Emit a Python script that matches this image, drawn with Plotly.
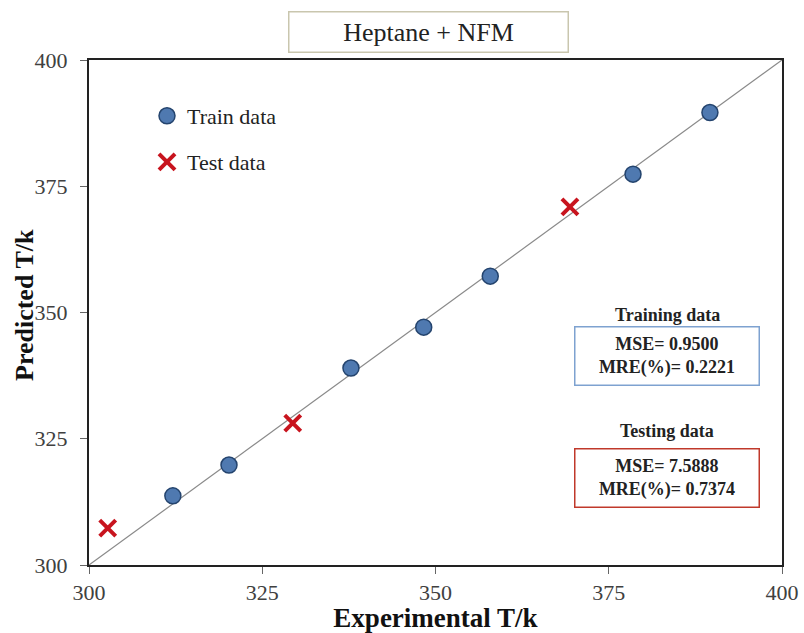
import plotly.graph_objects as go

# Data
train_exp = [312.1, 320.2, 337.8, 348.3, 357.9, 378.5, 389.6]
train_pred = [313.7, 319.8, 339.0, 347.1, 357.2, 377.4, 389.6]
test_exp = [302.7, 329.4, 369.4]
test_pred = [307.3, 328.1, 370.9]
diag = [300, 400]
ticks = [300, 325, 350, 375, 400]

SERIF = "Liberation Serif"
L, R, T, B = 89, 22, 60, 68
PW, PH = 804 - L - R, 633 - T - B


def px(xp):
    return (xp - L) / PW


def py(yp):
    return (633 - B - yp) / PH


fig = go.Figure()
fig.add_trace(go.Scatter(x=diag, y=diag, mode="lines",
                         line=dict(color="#8a8a8a", width=1.2),
                         showlegend=False, hoverinfo="skip"))
fig.add_trace(go.Scatter(x=train_exp, y=train_pred, mode="markers", name="Train data",
                         marker=dict(symbol="circle", size=16, color="#4f79b0",
                                     line=dict(color="#24446e", width=1.5)),
                         legend="legend"))
fig.add_trace(go.Scatter(x=test_exp, y=test_pred, mode="markers", name="Test data",
                         marker=dict(symbol="x-thin", size=16,
                                     line=dict(color="#c8141e", width=4)),
                         legend="legend2"))

axis_common = dict(range=[300, 400], tickvals=ticks, ticks="outside", ticklen=7,
                   tickcolor="#666", showgrid=False, zeroline=False, automargin=False,
                   showline=True, linecolor="#222", linewidth=2, mirror=True,
                   tickfont=dict(family=SERIF, size=22, color="#404040"))

fig.update_layout(
    width=804, height=633,
    margin=dict(l=L, r=R, t=T, b=B),
    paper_bgcolor="white", plot_bgcolor="white",
    font=dict(family=SERIF),
    xaxis=dict(axis_common, ticklabelstandoff=0,
               title=dict(text="<b>Experimental T/k</b>", standoff=4,
                          font=dict(family=SERIF, size=27, color="#111"))),
    yaxis=dict(axis_common, ticklabelstandoff=8),
    legend=dict(x=px(147), y=py(116), xanchor="left", yanchor="middle",
                font=dict(family=SERIF, size=22, color="#222"),
                bgcolor="rgba(0,0,0,0)", itemwidth=30),
    legend2=dict(x=px(147), y=py(162), xanchor="left", yanchor="middle",
                 font=dict(family=SERIF, size=22, color="#222"),
                 bgcolor="rgba(0,0,0,0)", itemwidth=30),
)

# Y axis title
fig.add_annotation(xref="paper", yref="paper", x=px(24), y=py(305),
                   xanchor="center", yanchor="middle", textangle=-90,
                   text="<b>Predicted T/k</b>", showarrow=False,
                   font=dict(family=SERIF, size=26, color="#111"))

# Title box
fig.add_annotation(xref="paper", yref="paper", x=px(428), y=py(32),
                   xanchor="center", yanchor="middle",
                   text="Heptane + NFM", showarrow=False,
                   font=dict(family=SERIF, size=26, color="#222"),
                   bordercolor="#c9c6ae", borderwidth=1.5, bgcolor="white",
                   width=274, height=35, borderpad=2)

# Stats annotations
stat_font = dict(family=SERIF, size=18, color="#222")
fig.add_annotation(xref="paper", yref="paper", x=px(667), y=py(315),
                   xanchor="center", yanchor="middle",
                   text="<b>Training data</b>", showarrow=False, font=stat_font)
fig.add_annotation(xref="paper", yref="paper", x=px(667), y=py(356),
                   xanchor="center", yanchor="middle",
                   text="<b>MSE= 0.9500<br>MRE(%)= 0.2221</b>", showarrow=False,
                   font=stat_font,
                   bordercolor="#7ea2d0", borderwidth=1.5, bgcolor="white",
                   width=181, height=55, borderpad=1)
fig.add_annotation(xref="paper", yref="paper", x=px(667), y=py(431),
                   xanchor="center", yanchor="middle",
                   text="<b>Testing data</b>", showarrow=False, font=stat_font)
fig.add_annotation(xref="paper", yref="paper", x=px(667), y=py(478),
                   xanchor="center", yanchor="middle",
                   text="<b>MSE= 7.5888<br>MRE(%)= 0.7374</b>", showarrow=False,
                   font=stat_font,
                   bordercolor="#c0392b", borderwidth=1.5, bgcolor="white",
                   width=181, height=55, borderpad=1)

fig.write_html("out.html")
